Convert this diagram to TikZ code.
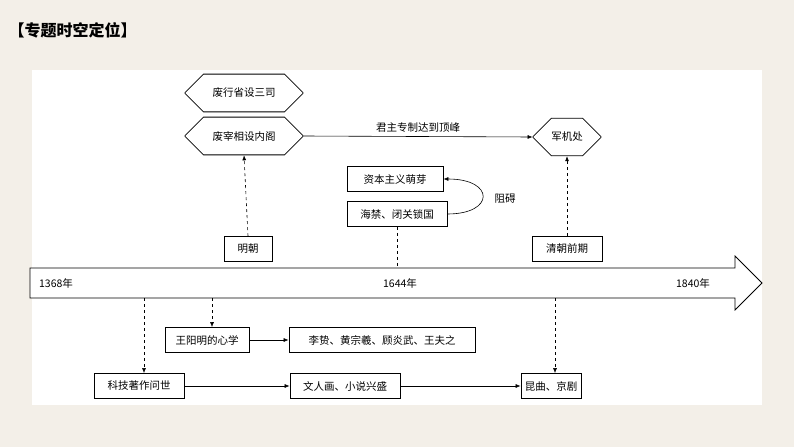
\documentclass[tikz,border=0pt]{standalone}
\usepackage{fontspec}
\newfontfamily\cjk{Noto Sans CJK SC}
\usetikzlibrary{shapes.geometric,shapes.misc,arrows.meta}
\begin{document}
\begin{tikzpicture}[x=1pt,y=-1pt,font=\cjk\fontsize{10.5}{12}\selectfont,
 bx/.style={draw,thick,inner sep=3pt,minimum height=25pt,fill=white},
 hex/.style={draw,thick,fill=white,inner sep=0pt,minimum height=28pt,
  chamfered rectangle,chamfered rectangle xsep=4.5pt,chamfered rectangle ysep=14pt},
 ar/.style={-{Latex[length=5pt,width=4pt]},semithick},
 da/.style={ar,dashed}]
\fill[fill={rgb,255:red,243;green,239;blue,232}] (0,0) rectangle (794,447);
\fill[white] (32,70) rectangle (762,405);
\node[anchor=west,font=\cjk\bfseries\fontsize{16}{17}\selectfont] (title) at (5,30) {【专题时空定位】};
% hexagons
\node[hex,minimum width=118pt] (h1) at (244,93) {废行省设三司};
\node[hex,minimum width=118pt] (h2) at (244,136) {废宰相设内阁};
\node[hex,minimum width=68pt] (h3) at (567,137) {军机处};
\draw[ar] (h2.east) -- node[above=1pt] (lab1) {君主专制达到顶峰} (h3.west);
% boxes upper
\node[bx,minimum width=96pt] (zb) at (395,179) {资本主义萌芽};
\node[bx,minimum width=100pt] (hj) at (397,214) {海禁、闭关锁国};
\draw[ar] (hj.east) .. controls (495,214) and (495,179) .. (zb.east);
\node (za) at (505,199) {阻碍};
\node[bx,minimum width=48pt] (mc) at (248,249) {明朝};
\node[bx,minimum width=70pt] (qc) at (567,249) {清朝前期};
\draw[da] (mc.north) -- (h2.south);
\draw[da] (qc.north) -- (h3.south);
% big arrow
\draw[thick,fill=white] (30,268) -- (735,268) -- (735,256) -- (762,283) -- (735,310) -- (735,298) -- (30,298) -- cycle;
\node (y1) at (56,283) {1368年};
\node (y2) at (400,283) {1644年};
\node (y3) at (693,283) {1840年};
\coordinate (t1) at (397,268);
\draw[thick,dashed] (hj.south) -- (t1);
% lower boxes
\node[bx,minimum width=84pt] (wy) at (207,340) {王阳明的心学};
\node[bx,minimum width=186pt] (lz) at (382,340) {李贽、黄宗羲、顾炎武、王夫之};
\node[bx,minimum width=90pt] (kj) at (139,386) {科技著作问世};
\node[bx,minimum width=110pt] (wr) at (345,386) {文人画、小说兴盛};
\node[bx,minimum width=60pt] (kq) at (551,386) {昆曲、京剧};
\coordinate (b1) at (144,298);
\coordinate (b2) at (212,298);
\coordinate (b3) at (555,298);
\draw[da] (b1) -- (b1 |- kj.north);
\draw[da] (b2) -- (b2 |- wy.north);
\draw[da] (b3) -- (b3 |- kq.north);
\draw[ar] (wy) -- (lz);
\draw[ar] (kj) -- (wr);
\draw[ar] (wr) -- (kq);
\end{tikzpicture}
\end{document}
